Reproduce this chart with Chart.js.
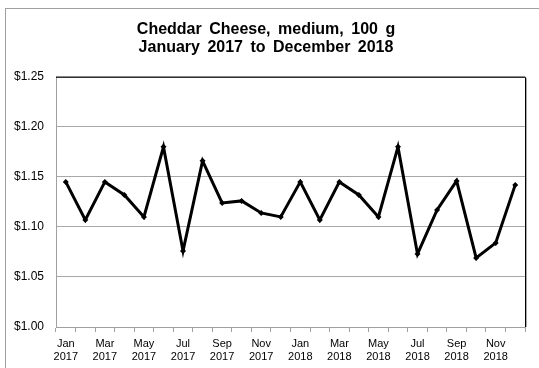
<!DOCTYPE html>
<html>
<head>
<meta charset="utf-8">
<script src="https://cdn.jsdelivr.net/npm/chart.js@4/dist/chart.umd.min.js"></script>
<style>
    body { margin: 0; background: #fff; }
    #wrap { position: relative; width: 539px; height: 368px; overflow: hidden; }
    #frame {
        position: absolute; left: 5px; top: 8px; width: 600px; height: 400px;
        border-top: 1px solid #a0a0a0; border-left: 1px solid #a0a0a0;
    }
    canvas { position: absolute; left: 0; top: 0; }
</style>
</head>
<body>
<div id="wrap">
    <div id="frame"></div>
    <canvas id="chart" width="539" height="368"></canvas>
</div>
<script>
const months = ['Jan', 'Feb', 'Mar', 'Apr', 'May', 'Jun', 'Jul', 'Aug', 'Sep', 'Oct', 'Nov', 'Dec'];
const years = ['2017', '2018'];
const prices = [
    1.145, 1.107, 1.145, 1.132, 1.110, 1.180, 1.076, 1.166, 1.124, 1.126, 1.114, 1.110,
    1.145, 1.107, 1.145, 1.132, 1.110, 1.180, 1.073, 1.117, 1.146, 1.069, 1.084, 1.142
];
const yTicks = [1.00, 1.05, 1.10, 1.15, 1.20, 1.25];

const labels = [];
years.forEach(y => months.forEach(m => labels.push([m, y])));

// slightly wider gaps between the title words
const titleSpacing = {
    id: 'titleSpacing',
    beforeDraw(chart) { chart.ctx.wordSpacing = '3px'; },
    beforeDatasetsDraw(chart) { chart.ctx.wordSpacing = '0px'; }
};

// top and right edges of the plot are drawn darker
const plotFrame = {
    id: 'plotFrame',
    afterDraw(chart) {
        const { ctx, chartArea: a } = chart;
        ctx.save();
        ctx.strokeStyle = '#a8a8a8';
        ctx.lineWidth = 1;
        ctx.beginPath();
        ctx.moveTo(a.right + 1.5, a.top + 1);
        ctx.lineTo(a.right + 1.5, a.bottom);
        ctx.stroke();
        ctx.strokeStyle = '#000';
        ctx.beginPath();
        ctx.moveTo(a.left, a.top + 0.5);
        ctx.lineTo(a.right + 0.5, a.top + 0.5);
        ctx.lineTo(a.right + 0.5, a.bottom);
        ctx.stroke();
        ctx.restore();
    }
};

new Chart(document.getElementById('chart'), {
    type: 'line',
    data: {
        labels,
        datasets: [{
            data: prices,
            borderColor: '#000',
            backgroundColor: '#000',
            borderWidth: 3,
            pointStyle: 'rectRot',
            pointRadius: 3,
            pointBorderWidth: 0,
            tension: 0
        }]
    },
    options: {
        responsive: false,
        animation: false,
        layout: { padding: { left: 7, right: 14, top: 0, bottom: 0 } },
        plugins: {
            legend: { display: false },
            tooltip: { enabled: false },
            title: {
                display: true,
                text: ['Cheddar Cheese, medium, 100 g', 'January 2017 to December 2018'],
                color: '#000',
                font: { family: 'Liberation Sans, Arial, sans-serif', size: 16, weight: 'bold', lineHeight: 1.15 },
                padding: { top: 20, bottom: 20 }
            }
        },
        scales: {
            x: {
                offset: true,
                grid: { offset: true, drawOnChartArea: false, color: '#a0a0a0', tickLength: 5 },
                border: { color: '#a0a0a0' },
                ticks: {
                    autoSkip: false,
                    maxRotation: 0,
                    color: '#000',
                    padding: 5,
                    font: { family: 'Liberation Sans, Arial, sans-serif', size: 11, lineHeight: 1.2 },
                    callback: (v, i) => i % 2 === 0 ? labels[i] : ''
                },
                afterFit: s => { s.height = 41; }
            },
            y: {
                min: 1.00,
                max: 1.25,
                afterBuildTicks: s => { s.ticks = yTicks.map(v => ({ value: v })); },
                grid: { color: '#a8a8a8', drawTicks: false },
                border: { color: '#a0a0a0' },
                ticks: {
                    color: '#000',
                    padding: 12,
                    font: { family: 'Liberation Sans, Arial, sans-serif', size: 12 },
                    callback: v => '$' + v.toFixed(2)
                },
                afterFit: s => { s.width = 49; }
            }
        }
    },
    plugins: [titleSpacing, plotFrame]
});
</script>
</body>
</html>
